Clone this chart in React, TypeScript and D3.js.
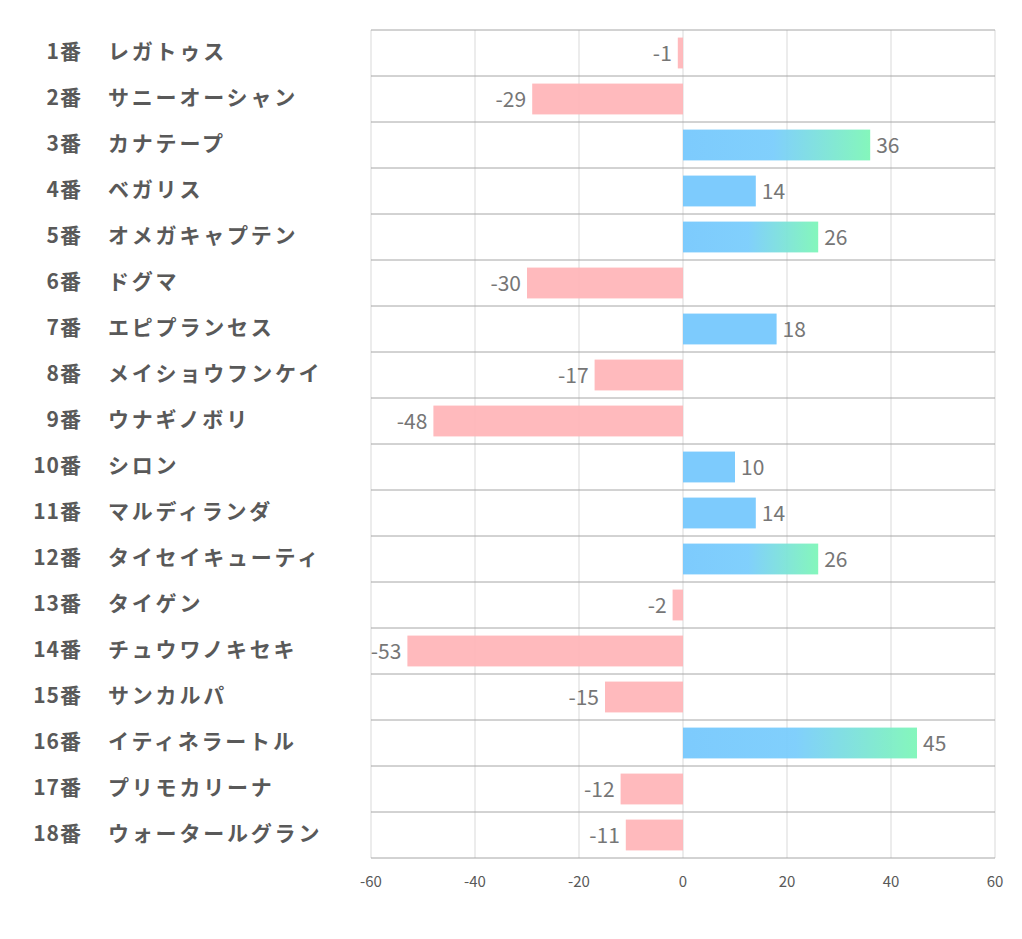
import React from "react";
import * as d3 from "d3";

const numbers = ["1番","2番","3番","4番","5番","6番","7番","8番","9番","10番","11番","12番","13番","14番","15番","16番","17番","18番"];
const names = ["レガトゥス","サニーオーシャン","カナテープ","ベガリス","オメガキャプテン","ドグマ","エピプランセス","メイショウフンケイ","ウナギノボリ","シロン","マルディランダ","タイセイキューティ","タイゲン","チュウワノキセキ","サンカルパ","イティネラートル","プリモカリーナ","ウォータールグラン"];
const values = [-1,-29,36,14,26,-30,18,-17,-48,10,14,26,-2,-53,-15,45,-12,-11];
const ticks = [-60,-40,-20,0,20,40,60];

export default function App() {
  const W = 1022, H = 939;
  const left = 371, right = 995, top = 30, bottom = 858;
  const x = d3.scaleLinear().domain([-60, 60]).range([left, right]);
  const y = d3.scaleBand<number>().domain(d3.range(values.length)).range([top, bottom]).paddingInner(0.33).paddingOuter(0.165);
  const rowH = (bottom - top) / values.length;
  const font = "'Noto Sans CJK JP', 'Noto Sans', sans-serif";
  return (
    <svg width={W} height={H} style={{ position: "absolute", left: 0, top: 0, background: "#fff" }}>
      <defs>
        <linearGradient id="posGrad" x1="0" x2="1" y1="0" y2="0">
          <stop offset="0%" stopColor="#76c8fd" />
          <stop offset="48%" stopColor="#7acdfc" />
          <stop offset="100%" stopColor="#7ef6b8" />
        </linearGradient>
      </defs>
      {ticks.map((t) => (
        <line key={"v" + t} x1={x(t)} x2={x(t)} y1={top} y2={bottom} stroke="#d9d9d9" strokeWidth={1} />
      ))}
      {d3.range(values.length + 1).map((i) => (
        <line key={"h" + i} x1={left} x2={right} y1={top + i * rowH} y2={top + i * rowH} stroke="#a6a6a6" strokeWidth={1} />
      ))}
      {values.map((v, i) => {
        const x0 = x(Math.min(0, v));
        const w = Math.abs(x(v) - x(0));
        const fill = v < 0 ? "#ffb6b9" : v >= 20 ? "url(#posGrad)" : "#76c8fd";
        return (
          <rect key={"b" + i} x={x0} y={y(i)!} width={w} height={y.bandwidth()} fill={fill} opacity={0.95} />
        );
      })}
      {values.map((v, i) => (
        <text
          key={"l" + i}
          x={v < 0 ? x(v) - 6 : x(v) + 6}
          y={y(i)! + y.bandwidth() / 2 + 1}
          dy="0.35em"
          textAnchor={v < 0 ? "end" : "start"}
          fontFamily={font}
          fontSize={21}
          fill="#767676"
        >
          {v}
        </text>
      ))}
      {numbers.map((n, i) => (
        <g key={"n" + i}>
          <text x={82} y={top + (i + 0.5) * rowH - 1} dy="0.35em" textAnchor="end" fontFamily={font} fontSize={21} fontWeight="bold" fill="#595959" letterSpacing={1}>
            {n}
          </text>
          <text x={108} y={top + (i + 0.5) * rowH - 1} dy="0.35em" textAnchor="start" fontFamily={font} fontSize={21} fontWeight="bold" fill="#595959" letterSpacing={2.8}>
            {names[i]}
          </text>
        </g>
      ))}
      {ticks.map((t) => (
        <text key={"t" + t} x={x(t)} y={882} dy="0.35em" textAnchor="middle" fontFamily={font} fontSize={15} fill="#595959">
          {t}
        </text>
      ))}
    </svg>
  );
}
